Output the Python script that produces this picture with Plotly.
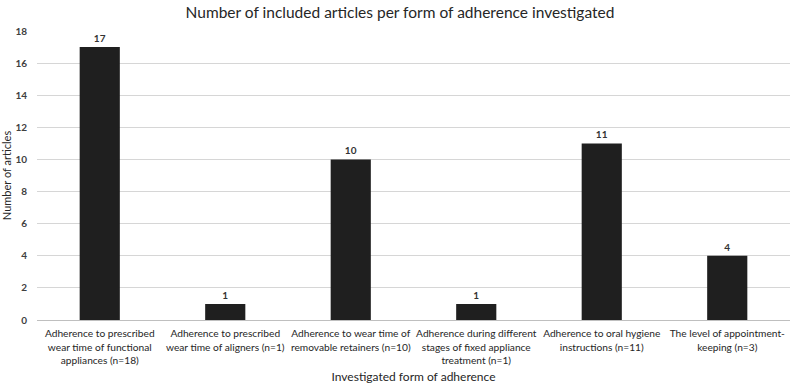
import plotly.graph_objects as go

categories = [
    "Adherence to prescribed<br>wear time of functional<br>appliances (n=18)",
    "Adherence to prescribed<br>wear time of aligners (n=1)",
    "Adherence to wear time of<br>removable retainers (n=10)",
    "Adherence during different<br>stages of fixed appliance<br>treatment (n=1)",
    "Adherence to oral hygiene<br>instructions (n=11)",
    "The level of appointment-<br>keeping (n=3)",
]
values = [17, 1, 10, 1, 11, 4]
y_ticks = [0, 2, 4, 6, 8, 10, 12, 14, 16, 18]

FONT = "Lato, Open Sans, sans-serif"

fig = go.Figure(go.Bar(
    x=categories, y=values,
    marker=dict(color="#1f1f1f", line=dict(width=0)),
    width=0.32,
    text=[str(v) for v in values], textposition="outside",
    textfont=dict(family=FONT, size=10, color="#333333", weight="bold"),
    cliponaxis=False,
))

fig.update_layout(
    width=800, height=384,
    margin=dict(l=37, r=10, t=31, b=64),
    paper_bgcolor="white", plot_bgcolor="white",
    showlegend=False,
    title=dict(text="Number of included articles per form of adherence investigated",
               x=0.5, xanchor="center", y=1 - 13 / 384, yanchor="middle",
               font=dict(family=FONT, size=15.5, color="#262626")),
    bargap=0.68,
)
fig.update_xaxes(
    showgrid=False, showline=True, linecolor="#bfbfbf", linewidth=1,
    ticks="", ticklabelstandoff=4,
    tickfont=dict(family=FONT, size=10.2, color="#262626"),
    title=dict(text="Investigated form of adherence", standoff=10,
               font=dict(family=FONT, size=12, color="#262626")),
    automargin=False, tickangle=0,
)
fig.update_yaxes(
    range=[0, 18], tickvals=y_ticks, showgrid=True, gridcolor="#d6d6d6", gridwidth=1,
    zeroline=False, showline=False, ticks="", ticklabelstandoff=9,
    tickfont=dict(family=FONT, size=10, color="#404040", weight="bold"),
    title=dict(text="Number of articles", standoff=4,
               font=dict(family=FONT, size=11, color="#262626")),
    automargin=False,
)

# remove the default 8px page margin so the figure sits at the window's corner
fig.write_html("out.html", config={"displayModeBar": False},
               post_script="document.body.style.margin='0';")
